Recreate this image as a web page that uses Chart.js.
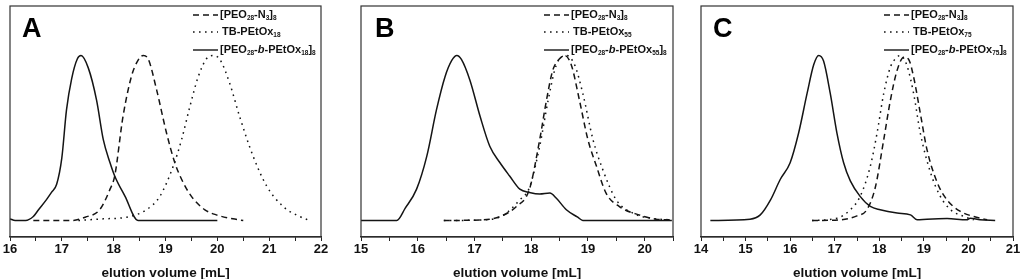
<!DOCTYPE html>
<html>
<head>
<meta charset="utf-8">
<script src="https://cdn.jsdelivr.net/npm/chart.js@4"></script>
<style>
  html, body { margin: 0; padding: 0; background: #fff; }
  #wrap { position: relative; width: 1024px; height: 279px; overflow: hidden; background: #fff; }
  canvas { position: absolute; top: 0; }
</style>
</head>
<body>
<div id="wrap">
  <canvas id="chartA" width="351" height="281" style="left:-10px"></canvas>
  <canvas id="chartB" width="352" height="281" style="left:341px"></canvas>
  <canvas id="chartC" width="352" height="281" style="left:681px"></canvas>
</div>
<script>
// ---- panel A ----
const aSolidX = [16.0, 16.1, 16.3, 16.45, 16.55, 16.7, 16.8, 16.9, 17.0, 17.09, 17.19, 17.3, 17.37, 17.51, 17.67, 17.8, 17.93, 18.02, 18.22, 18.47, 20.0];
const aSolidY = [0.01, 0.0, 0.0, 0.024, 0.065, 0.125, 0.17, 0.22, 0.38, 0.67, 0.86, 0.98, 1.0, 0.925, 0.73, 0.49, 0.35, 0.27, 0.146, 0.0, 0.0];
const aDashX = [16.45, 17.2, 17.45, 17.73, 17.93, 18.02, 18.18, 18.34, 18.45, 18.57, 18.67, 18.83, 19.02, 19.18, 19.31, 19.5, 19.76, 19.98, 20.3, 20.5];
const aDashY = [0, 0, 0.02, 0.065, 0.19, 0.27, 0.63, 0.87, 0.96, 1.0, 0.976, 0.79, 0.53, 0.35, 0.25, 0.146, 0.065, 0.034, 0.01, 0];
const aDotX = [17.32, 17.8, 18.25, 18.63, 18.89, 19.15, 19.31, 19.47, 19.63, 19.79, 19.92, 20.05, 20.24, 20.43, 20.69, 20.95, 21.27, 21.59, 21.78];
const aDotY = [0, 0.01, 0.02, 0.065, 0.146, 0.33, 0.49, 0.69, 0.87, 0.98, 1.0, 0.976, 0.83, 0.63, 0.39, 0.21, 0.085, 0.024, 0];

// ---- panel B ----
const bSolidX = [15.0, 15.63, 15.78, 15.98, 16.16, 16.33, 16.48, 16.6, 16.69, 16.77, 16.92, 17.1, 17.27, 17.45, 17.62, 17.8, 17.97, 18.15, 18.33, 18.44, 18.62, 18.82, 18.91, 20.48];
const bSolidY = [0, 0, 0.075, 0.19, 0.39, 0.67, 0.87, 0.97, 1.0, 0.976, 0.85, 0.63, 0.45, 0.35, 0.27, 0.19, 0.17, 0.16, 0.166, 0.136, 0.065, 0.02, 0, 0];
const bDashX = [16.46, 17.15, 17.45, 17.74, 17.97, 18.15, 18.27, 18.38, 18.5, 18.59, 18.71, 18.85, 19.0, 19.15, 19.32, 19.55, 19.9, 20.2, 20.48];
const bDashY = [0, 0.004, 0.024, 0.085, 0.19, 0.49, 0.73, 0.91, 0.98, 1.0, 0.94, 0.73, 0.49, 0.33, 0.166, 0.085, 0.034, 0.008, 0.004];
const bDotX = [16.46, 17.2, 17.5, 17.8, 17.97, 18.15, 18.3, 18.44, 18.62, 18.77, 18.91, 19.09, 19.26, 19.5, 19.79, 20.14, 20.48];
const bDotY = [0, 0.004, 0.03, 0.125, 0.2, 0.45, 0.73, 0.94, 1.0, 0.94, 0.77, 0.49, 0.31, 0.125, 0.045, 0.012, 0.004];

// ---- panel C ----
const cSolidX = [14.21, 15.1, 15.33, 15.56, 15.78, 16.0, 16.19, 16.38, 16.53, 16.64, 16.75, 16.9, 17.05, 17.2, 17.35, 17.57, 17.8, 18.02, 18.4, 18.7, 18.85, 19.07, 19.52, 19.96, 20.04, 20.26, 20.6];
const cSolidY = [0, 0.008, 0.034, 0.125, 0.25, 0.35, 0.53, 0.77, 0.945, 1.0, 0.966, 0.77, 0.53, 0.35, 0.24, 0.146, 0.085, 0.065, 0.045, 0.034, 0.004, 0.008, 0.012, 0.004, 0.014, 0.004, 0];
const cDashX = [16.49, 17.13, 17.5, 17.72, 17.91, 18.1, 18.25, 18.4, 18.55, 18.66, 18.77, 18.92, 19.07, 19.3, 19.52, 19.82, 20.12, 20.42];
const cDashY = [0, 0.004, 0.028, 0.065, 0.2, 0.49, 0.73, 0.91, 0.99, 0.976, 0.87, 0.65, 0.43, 0.23, 0.125, 0.055, 0.024, 0.004];
const cDotX = [16.49, 17.05, 17.35, 17.57, 17.8, 17.95, 18.1, 18.25, 18.4, 18.47, 18.62, 18.77, 18.92, 19.15, 19.37, 19.6, 19.9, 20.12];
const cDotY = [0, 0.014, 0.065, 0.146, 0.33, 0.53, 0.77, 0.93, 0.99, 1.0, 0.94, 0.77, 0.53, 0.29, 0.146, 0.065, 0.024, 0.004];

// axis ranges
const xRanges = { A: [16, 22], B: [15, 20.5], C: [14, 21] };
const axisTitle = "elution volume [mL]";

// legend labels, as [text, style] pieces ("sub" = subscript, "it" = italic)
const labelsA = [
    [["[PEO", ""], ["28", "sub"], ["-N", ""], ["3", "sub"], ["]", ""], ["8", "sub"]],
    [["TB-PEtOx", ""], ["18", "sub"]],
    [["[PEO", ""], ["28", "sub"], ["-", ""], ["b", "it"], ["-PEtOx", ""], ["18", "sub"], ["]", ""], ["8", "sub"]]
];
const labelsB = [
    [["[PEO", ""], ["28", "sub"], ["-N", ""], ["3", "sub"], ["]", ""], ["8", "sub"]],
    [["TB-PEtOx", ""], ["55", "sub"]],
    [["[PEO", ""], ["28", "sub"], ["-", ""], ["b", "it"], ["-PEtOx", ""], ["55", "sub"], ["]", ""], ["8", "sub"]]
];
const labelsC = [
    [["[PEO", ""], ["28", "sub"], ["-N", ""], ["3", "sub"], ["]", ""], ["8", "sub"]],
    [["TB-PEtOx", ""], ["75", "sub"]],
    [["[PEO", ""], ["28", "sub"], ["-", ""], ["b", "it"], ["-PEtOx", ""], ["75", "sub"], ["]", ""], ["8", "sub"]]
];

const FONT = "'Liberation Sans', Arial, sans-serif";
const INK = "#141414";
const DASH = [6, 4];
const DOT = [1.6, 4.4];

function pts(xs, ys) {
    return xs.map((x, i) => ({ x: x, y: ys[i] }));
}

function drawRich(ctx, pieces, x, y) {
    pieces.forEach(p => {
        const t = p[0], s = p[1];
        if (s === "sub") {
            ctx.font = "bold 6.5px " + FONT;
            ctx.fillText(t, x, y + 3.5);
        } else if (s === "it") {
            ctx.font = "italic bold 11px " + FONT;
            ctx.fillText(t, x, y);
        } else {
            ctx.font = "bold 11px " + FONT;
            ctx.fillText(t, x, y);
        }
        x += ctx.measureText(t).width;
    });
}

const framePlugin = {
    id: "frame",
    afterDraw(chart, args, opts) {
        const ctx = chart.ctx;
        const a = chart.chartArea;
        ctx.save();
        ctx.strokeStyle = "#333";
        ctx.lineWidth = 1.2;
        ctx.setLineDash([]);
        ctx.strokeRect(a.left, a.top, a.right - a.left, a.bottom - a.top);

        // panel letter
        ctx.fillStyle = "#000";
        ctx.font = "bold 27px " + FONT;
        ctx.textBaseline = "alphabetic";
        ctx.fillText(opts.letter, a.left + opts.letterDx, a.top + 31);

        // legend
        const dashes = [DASH, DOT, []];
        const rowY = [9, 26, 44];
        ctx.fillStyle = "#111";
        ctx.textBaseline = "middle";
        for (let i = 0; i < 3; i++) {
            const y = a.top + rowY[i];
            ctx.beginPath();
            ctx.setLineDash(dashes[i]);
            ctx.lineWidth = 1.4;
            ctx.strokeStyle = INK;
            ctx.moveTo(a.left + 183, y);
            ctx.lineTo(a.left + 208, y);
            ctx.stroke();
            drawRich(ctx, opts.labels[i], a.left + (i === 1 ? 212 : 210), y);
        }
        ctx.restore();
    }
};

function makePanel(id, letter, letterDx, range, series, labels) {
    const ctx = document.getElementById(id).getContext("2d");
    const dashes = [DASH, DOT, []];
    return new Chart(ctx, {
        type: "line",
        data: {
            datasets: series.map((s, i) => ({
                label: labels[i].map(p => p[0]).join(""),
                data: s,
                borderColor: INK,
                borderWidth: 1.5,
                borderDash: dashes[i],
                pointRadius: 0,
                fill: false,
                cubicInterpolationMode: "monotone"
            }))
        },
        options: {
            responsive: false,
            animation: false,
            devicePixelRatio: 1,
            layout: { padding: { left: 20, right: 20, top: 6, bottom: 0 } },
            plugins: {
                legend: { display: false },
                tooltip: { enabled: false },
                frame: { letter: letter, letterDx: letterDx, labels: labels }
            },
            scales: {
                x: {
                    type: "linear",
                    min: range[0],
                    max: range[1],
                    afterFit: function(scale) { scale.height = 44; },
                    grid: { drawOnChartArea: false, drawTicks: true, tickLength: 4, color: "#222", lineWidth: 1 },
                    border: { display: true, color: "#222", width: 1.2 },
                    ticks: {
                        stepSize: 0.5,
                        autoSkip: false,
                        maxRotation: 0,
                        padding: 1,
                        color: "#111",
                        font: { family: FONT, size: 13, weight: "bold" },
                        callback: v => Number.isInteger(v) ? v : ""
                    },
                    title: {
                        display: true,
                        text: axisTitle,
                        color: "#111",
                        font: { family: FONT, size: 13.5, weight: "bold" },
                        padding: { top: 4, bottom: 0 }
                    }
                },
                y: {
                    display: false,
                    min: -0.1,
                    max: 1.3
                }
            }
        },
        plugins: [framePlugin]
    });
}

makePanel("chartA", "A", 12, xRanges.A,
    [pts(aDashX, aDashY), pts(aDotX, aDotY), pts(aSolidX, aSolidY)], labelsA);
makePanel("chartB", "B", 14, xRanges.B,
    [pts(bDashX, bDashY), pts(bDotX, bDotY), pts(bSolidX, bSolidY)], labelsB);
makePanel("chartC", "C", 12, xRanges.C,
    [pts(cDashX, cDashY), pts(cDotX, cDotY), pts(cSolidX, cSolidY)], labelsC);
</script>
</body>
</html>
